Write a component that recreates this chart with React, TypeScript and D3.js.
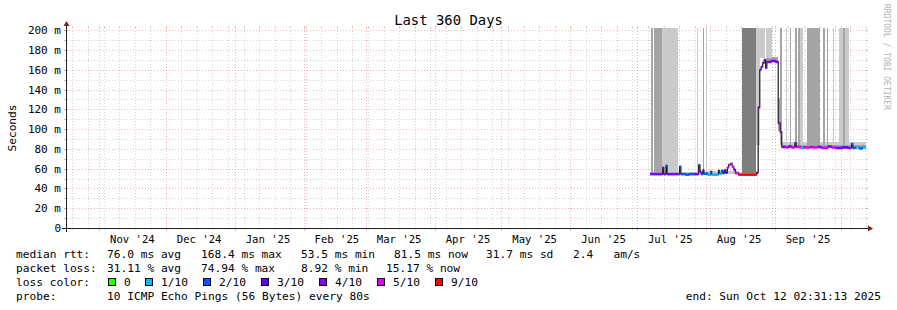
import React from "react";
import * as d3 from "d3";

// ---------- data ----------
const endTime = Date.UTC(2025, 9, 12, 2, 31, 13);
const spanDays = 360;
const startTime = endTime - spanDays * 86400000;

const chartTitle = "Last 360 Days";
const yAxisTitle = "Seconds";
const watermarkText = "RRDTOOL / TOBI OETIKER";

const yMax = 202.3;
const yMinorStep = 10;
const yLabelValues = [0, 20, 40, 60, 80, 100, 120, 140, 160, 180, 200];
const yLabelTexts = ["0", "20 m", "40 m", "60 m", "80 m", "100 m", "120 m", "140 m", "160 m", "180 m", "200 m"];

const monthTickDates = [
  "2024-11-01", "2024-12-01", "2025-01-01", "2025-02-01", "2025-03-01", "2025-04-01",
  "2025-05-01", "2025-06-01", "2025-07-01", "2025-08-01", "2025-09-01", "2025-10-01",
];
const monthLabelTexts = [
  "Nov '24", "Dec '24", "Jan '25", "Feb '25", "Mar '25", "Apr '25",
  "May '25", "Jun '25", "Jul '25", "Aug '25", "Sep '25",
];

const lossColors = ["#26ff00", "#00b8ff", "#0059ff", "#5e00ff", "#7e00ff", "#dd00ff", "#ff0000"];
const lossLabels = ["0", "1/10", "2/10", "3/10", "4/10", "5/10", "9/10"];
const lossUpper = [0, 1, 2, 3, 4, 5, 10];

// median steps: [month, day, median ms, loss (tenths)]
const medianSteps: [number, number, number, number][] = [
  [7, 6.9, 54.5, 3.5], [7, 12.6, 61, 3.5], [7, 13.1, 54.5, 3.5], [7, 14.1, 63, 2],
  [7, 14.6, 54.5, 3.5], [7, 19.8, 54.5, 2], [7, 20.2, 62, 2], [7, 20.8, 54.5, 2],
  [7, 23.0, 54, 1.5], [7, 24.5, 54.5, 2], [7, 26.5, 54.5, 3.5], [7, 28.8, 63.5, 3.5],
  [7, 29.4, 57, 3], [7, 29.9, 54.5, 2], [7, 30.7, 58.5, 3.5], [7, 31.2, 55, 2],
  [8, 2.0, 54, 1], [8, 3.2, 57, 2], [8, 3.7, 54, 1], [8, 6.7, 58, 2],
  [8, 7.2, 55, 1], [8, 8.2, 58, 2], [8, 8.8, 55.5, 2], [8, 9.5, 58.5, 3.5],
  [8, 10.0, 56, 3], [8, 10.7, 61, 5], [8, 11.3, 64, 5], [8, 12.2, 65, 5],
  [8, 12.9, 62, 5], [8, 13.6, 59, 3.5], [8, 14.3, 55.5, 5], [8, 15.8, 54, 9],
  [8, 23.9, 56, 3.5], [8, 24.6, 122, 3.5], [8, 25.3, 160, 3.5], [8, 25.9, 163, 3.5],
  [8, 26.6, 167, 3.5], [8, 27.3, 170, 3.5], [8, 27.9, 162, 3.5], [8, 28.5, 168, 3.5],
  [8, 30.5, 169, 3.5], [9, 1.3, 168, 3.5], [9, 2.6, 106, 3.5], [9, 3.5, 97, 3.5],
  [9, 4.2, 82, 3.5], [9, 5.8, 81.5, 5], [9, 7.2, 82.5, 3.5], [9, 8.5, 81.5, 5],
  [9, 10.1, 86, 3.5], [9, 10.7, 82, 5], [9, 12.8, 81, 1], [9, 14.0, 81.5, 5],
  [9, 17.3, 82, 9], [9, 17.9, 81.5, 5], [9, 20.5, 82, 3.5], [9, 22.0, 81, 5],
  [9, 25.0, 82.5, 3.5], [9, 26.5, 81.5, 5], [9, 28.5, 81, 3.5], [10, 1.5, 81.5, 3],
  [10, 4.0, 81, 3.5], [10, 5.6, 85, 2], [10, 6.2, 81, 2], [10, 7.5, 81.5, 1],
  [10, 9.0, 80.5, 2], [10, 10.5, 81.5, 1],
];

// smoke bands: [m1, d1, m2, d2, low ms, high ms, shade index]
const smokeShades = ["#cacaca", "#a4a4a4", "#7e7e7e"];
const smokeBands: [number, number, number, number, number, number, number][] = [
  [7, 7.0, 7, 31.5, 54.5, 56.5, 0],
  [8, 1.0, 8, 15.8, 54.5, 57.5, 0],
  [8, 15.8, 8, 24.0, 54, 56, 0],
  [8, 28.0, 9, 2.6, 168, 173, 1],
  [9, 4.2, 10, 12.2, 81.5, 87, 0],
  [9, 4.2, 10, 12.2, 81.5, 84, 1],
  [7, 7.4, 7, 8.3, 56, 250, 1],
  [7, 8.7, 7, 12.3, 56, 250, 1],
  [7, 12.3, 7, 19.5, 56, 250, 0],
  [7, 28.1, 7, 28.6, 56, 250, 0],
  [7, 30.8, 7, 31.2, 57, 250, 1],
  [8, 0.9, 8, 1.3, 56, 250, 0],
  [8, 17.2, 8, 23.5, 56, 250, 2],
  [8, 23.5, 8, 25.6, 84, 250, 0],
  [8, 25.6, 8, 27.6, 172, 250, 0],
  [8, 28.0, 8, 30.8, 172, 250, 0],
  [9, 2.6, 9, 3.6, 98, 132, 1],
  [9, 3.5, 9, 4.2, 84, 250, 1],
  [9, 6.0, 9, 6.3, 84, 250, 0],
  [9, 7.8, 9, 8.2, 84, 250, 1],
  [9, 10.0, 9, 11.0, 84, 250, 1],
  [9, 11.4, 9, 12.5, 84, 250, 1],
  [9, 12.5, 9, 13.9, 84, 250, 0],
  [9, 15.5, 9, 21.5, 84, 250, 1],
  [9, 22.8, 9, 23.7, 84, 250, 1],
  [9, 24.6, 9, 25.0, 84, 250, 1],
  [9, 27.3, 9, 27.6, 84, 250, 0],
  [9, 30.0, 10, 1.6, 84, 250, 0],
  [10, 1.6, 10, 2.6, 84, 250, 1],
  [10, 2.6, 10, 4.6, 84, 250, 0],
];

const rttHeading = "median rtt:";
const rttStats = ["76.0 ms avg", "168.4 ms max", "53.5 ms min", "81.5 ms now", "31.7 ms sd", "2.4   am/s"];
const lossHeading = "packet loss:";
const lossStats = ["31.11 % avg", "74.94 % max", "8.92 % min", "15.17 % now"];
const colorHeading = "loss color:";
const probeHeading = "probe:";
const probeText = "10 ICMP Echo Pings (56 Bytes) every 80s";
const endText = "end: Sun Oct 12 02:31:13 2025";

// ---------- helpers ----------
const dayTime = (m: number, d: number) => Date.UTC(2025, m - 1, 1) + (d - 1) * 86400000;
const lossIndex = (l: number) => {
  for (let i = 0; i < lossUpper.length; i++) if (l <= lossUpper[i]) return i;
  return lossUpper.length - 1;
};

const FONT = "DejaVu Sans Mono";
const W = 897;
const H = 310;
const X0 = 66;
const X1 = 866;
const Y0 = 228;
const Y1 = 28;

export default function App() {
  const x = d3.scaleUtc().domain([startTime, endTime]).range([X0, X1]);
  const y = d3.scaleLinear().domain([0, yMax]).range([Y0, Y1]);
  const px = (t: number) => Math.round(x(t)) + 0.5;
  const py = (v: number) => Math.round(y(v)) + 0.5;

  const monthTimes = monthTickDates.map((s) => Date.parse(s + "T00:00:00Z"));
  const weekTimes = d3.utcSunday
    .range(new Date(startTime), new Date(endTime))
    .map((d) => d.getTime())
    .filter((t) => !monthTimes.includes(t));

  const minorY = d3.range(yMinorStep, yMax, yMinorStep).filter((v) => v % 20 !== 0);
  const majorY = yLabelValues.filter((v) => v > 0);

  const gridMinor = "rgba(150,150,150,0.42)";
  const gridMajor = "rgba(222,80,80,0.42)";

  const steps = medianSteps.map((s, i) => {
    const t0 = dayTime(s[0], s[1]);
    const t1 = i + 1 < medianSteps.length ? dayTime(medianSteps[i + 1][0], medianSteps[i + 1][1]) : endTime;
    return { t0, t1, v: s[2], c: lossColors[lossIndex(s[3])] };
  });

  let medPath = "";
  steps.forEach((s, i) => {
    const xa = x(s.t0);
    const xb = x(s.t1);
    const yy = y(s.v);
    medPath += (i === 0 ? `M${xa},${yy}` : `V${yy}`) + `H${xb}`;
  });

  // legend layout
  const legX = 16;
  const statX = 107;
  const rttX = [107, 201, 301, 394, 486, 573];
  const lossX = [107, 201, 301, 386];
  const lineY = [258, 272, 286, 300];
  const boxes: { sx: number; tx: number }[] = [];
  let bx = 108;
  lossLabels.forEach((lab) => {
    boxes.push({ sx: bx, tx: bx + 16 });
    bx = bx + 16 + lab.length * 7 + 14;
  });

  return (
    <svg
      width={W}
      height={H}
      viewBox={`0 0 ${W} ${H}`}
      style={{ position: "absolute", left: 0, top: 0, background: "#ffffff" }}
      fontFamily={FONT}
    >
      <defs>
        <clipPath id="plotclip">
          <rect x={X0 + 1} y={Y1} width={X1 - X0} height={Y0 - Y1} />
        </clipPath>
      </defs>
      <rect x={0} y={0} width={W} height={H} fill="#ffffff" />

      {/* grid: minor horizontal */}
      {minorY.map((v) => (
        <g key={"mh" + v} stroke={gridMinor} strokeWidth={1}>
          <line x1={X0 - 2} x2={X1 + 2} y1={py(v)} y2={py(v)} strokeDasharray="1,2" />
          <line x1={X0 - 2} x2={X0} y1={py(v)} y2={py(v)} />
          <line x1={X1} x2={X1 + 2} y1={py(v)} y2={py(v)} />
        </g>
      ))}
      {/* grid: minor vertical (weeks) */}
      {weekTimes.map((t) => (
        <g key={"mv" + t} stroke={gridMinor} strokeWidth={1}>
          <line x1={px(t)} x2={px(t)} y1={Y1} y2={Y0} strokeDasharray="1,2" />
          <line x1={px(t)} x2={px(t)} y1={Y1 - 2} y2={Y1} />
          <line x1={px(t)} x2={px(t)} y1={Y0} y2={Y0 + 2} />
        </g>
      ))}
      {/* grid: major horizontal */}
      {majorY.map((v) => (
        <g key={"Mh" + v} stroke={gridMajor} strokeWidth={1}>
          <line x1={X0 - 2} x2={X1 + 2} y1={py(v)} y2={py(v)} strokeDasharray="1,2" />
          <line x1={X0 - 2} x2={X0} y1={py(v)} y2={py(v)} />
          <line x1={X1} x2={X1 + 2} y1={py(v)} y2={py(v)} />
        </g>
      ))}
      {/* grid: major vertical (months) */}
      {monthTimes.map((t) => (
        <g key={"Mv" + t} stroke={gridMajor} strokeWidth={1}>
          <line x1={px(t)} x2={px(t)} y1={Y1} y2={Y0} strokeDasharray="1,2" />
          <line x1={px(t)} x2={px(t)} y1={Y1 - 2} y2={Y1} />
          <line x1={px(t)} x2={px(t)} y1={Y0} y2={Y0 + 3} />
        </g>
      ))}

      {/* smoke */}
      <g clipPath="url(#plotclip)" shapeRendering="crispEdges">
        {smokeBands.map((b, i) => {
          const xa = Math.round(x(dayTime(b[0], b[1])));
          const xb = Math.round(x(dayTime(b[2], b[3])));
          const ya = Math.round(y(Math.min(b[5], yMax + 5)));
          const yb = Math.round(y(b[4]));
          return (
            <rect key={"s" + i} x={xa} y={ya} width={Math.max(1, xb - xa)} height={Math.max(1, yb - ya)} fill={smokeShades[b[6]]} />
          );
        })}
      </g>

      {/* median line */}
      <path d={medPath} fill="none" stroke="#202020" strokeWidth={1.2} />
      {/* loss coloured median bands */}
      <g>
        {steps.map((s, i) => {
          const xa = x(s.t0);
          const xb = x(s.t1);
          const yy = y(s.v);
          return <rect key={"c" + i} x={xa} y={yy - 1.3} width={Math.max(0.5, xb - xa)} height={2.6} fill={s.c} />;
        })}
      </g>

      {/* axes */}
      <line x1={X0 - 4} x2={X1 + 4} y1={Y0 + 0.5} y2={Y0 + 0.5} stroke="#1f1f1f" strokeWidth={1} />
      <line x1={X0 + 0.5} x2={X0 + 0.5} y1={Y0 + 4} y2={Y1 - 4} stroke="#1f1f1f" strokeWidth={1} />
      <path d={`M${X1 + 2},${Y0 - 2.5}L${X1 + 2},${Y0 + 3.5}L${X1 + 7},${Y0 + 0.5}Z`} fill="#7f1f1f" />
      <path d={`M${X0 - 2.5},${Y1 - 2}L${X0 + 3.5},${Y1 - 2}L${X0 + 0.5},${Y1 - 7}Z`} fill="#7f1f1f" />

      {/* y labels */}
      {yLabelValues.map((v, i) => (
        <text key={"yl" + v} x={61} y={py(v) + 3.6} textAnchor="end" fontSize={11} fill="#000">
          {yLabelTexts[i]}
        </text>
      ))}
      {/* x labels */}
      {monthLabelTexts.map((lab, i) => (
        <text key={"xl" + i} x={x(monthTimes[i] + 15 * 86400000)} y={242.5} textAnchor="middle" fontSize={10.6} fill="#000" xmlSpace="preserve">
          {lab}
        </text>
      ))}

      {/* titles */}
      <text x={W / 2} y={24.5} textAnchor="middle" fontSize={13.9} fill="#000" xmlSpace="preserve">
        {chartTitle}
      </text>
      <text transform={`translate(15.5,${(Y0 + Y1) / 2}) rotate(-90)`} textAnchor="middle" fontSize={11.2} fill="#000">
        {yAxisTitle}
      </text>
      <text transform={`translate(884,4) rotate(90)`} textAnchor="start" fontSize={8} fill="#b4b4b4">
        {watermarkText}
      </text>

      {/* legend */}
      <g fontSize={11.2} fill="#000" style={{ whiteSpace: "pre" }}>
        <text x={legX} y={lineY[0]}>{rttHeading}</text>
        {rttStats.map((s, i) => (
          <text key={"r" + i} x={rttX[i]} y={lineY[0]} xmlSpace="preserve">{s}</text>
        ))}
        <text x={legX} y={lineY[1]}>{lossHeading}</text>
        {lossStats.map((s, i) => (
          <text key={"l" + i} x={lossX[i]} y={lineY[1]} xmlSpace="preserve">{s}</text>
        ))}
        <text x={legX} y={lineY[2]}>{colorHeading}</text>
        {boxes.map((b, i) => (
          <g key={"b" + i}>
            <rect x={b.sx + 0.5} y={lineY[2] - 7.5} width={7} height={7} fill={lossColors[i]} stroke="#000" strokeWidth={1} />
            <text x={b.tx} y={lineY[2]}>{lossLabels[i]}</text>
          </g>
        ))}
        <text x={legX} y={lineY[3]}>{probeHeading}</text>
        <text x={statX} y={lineY[3]}>{probeText}</text>
        <text x={881} y={lineY[3]} textAnchor="end">{endText}</text>
      </g>
    </svg>
  );
}
